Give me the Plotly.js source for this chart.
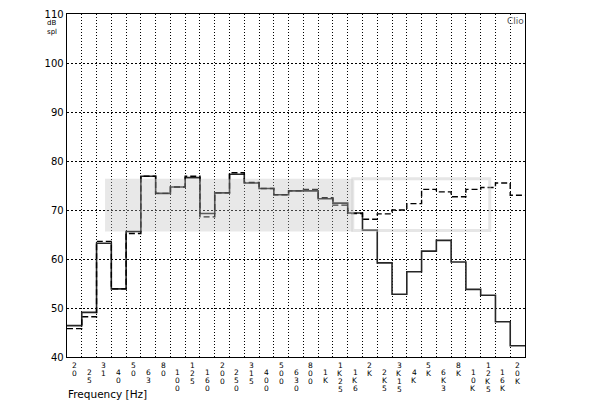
<!DOCTYPE html>
<html>
<head>
<meta charset="utf-8">
<script src="https://cdn.plot.ly/plotly-3.0.1.min.js"></script>
<style>html,body{margin:0;padding:0;background:#fff;}#chart{width:600px;height:403px;}</style>
</head>
<body>
<div id="chart"></div>
<script>
// 1/3-octave band labels (as printed under the axis)
const bandLabels = ["20","25","31","40","50","63","80","100","125","160","200","250","315","400","500","630","800","1K","1K25","1K6","2K","2K5","3K15","4K","5K","6K3","8K","10K","12K5","16K","20K"];
// Solid trace (dB spl)
const solidDb = [46.4, 49.1, 63.2, 53.9, 65.6, 76.9, 73.4, 74.7, 76.6, 69.3, 73.5, 77.3, 75.5, 74.4, 73.1, 73.9, 73.9, 72.3, 71.4, 69.4, 65.9, 59.2, 52.8, 57.4, 61.6, 63.8, 59.4, 53.8, 52.6, 47.2, 42.3];
// Dashed trace (dB spl)
const dashedDb = [45.8, 48.2, 63.6, 53.9, 65.2, 76.9, 73.4, 74.7, 76.9, 68.6, 73.5, 77.6, 75.6, 74.4, 73.1, 73.9, 74.2, 72.5, 71.0, 69.3, 68.1, 69.2, 70.0, 71.3, 74.2, 73.7, 72.7, 74.2, 74.6, 75.5, 73.0];
const yTicks = [40, 50, 60, 70, 80, 90, 100, 110];

const n = bandLabels.length;
// step edges: each band occupies [i-0.5, i+0.5]
const edges = bandLabels.map((_, i) => i - 0.5).concat([n - 0.5]);
const stepY = arr => arr.concat([arr[arr.length - 1]]);
const boundaries = bandLabels.slice(1).map((_, i) => i + 0.5);

const traces = [
  {x: edges, y: stepY(solidDb), mode: 'lines', line: {shape: 'hv', color: '#262626', width: 1.6}, hoverinfo: 'skip', showlegend: false},
  {x: edges, y: stepY(dashedDb), mode: 'lines', line: {shape: 'hv', color: '#000', width: 1.4, dash: '6px,3px'}, hoverinfo: 'skip', showlegend: false}
];

const FONT = 'DejaVu Sans, sans-serif';
const annotations = [];
bandLabels.forEach((lab, i) => {
  const chars = lab.split('');
  chars.forEach((ch, j) => {
    annotations.push({
      x: i, xref: 'x', y: 0, yref: 'paper', xanchor: 'center', yanchor: 'middle',
      yshift: -(8 + 8 * j + (i % 2) * 7.7), text: ch, showarrow: false, borderpad: 0,
      font: {family: FONT, size: 7.5, color: '#000'}
    });
  });
});
annotations.push({x: 0, xref: 'paper', y: 0, yref: 'paper', xanchor: 'left', yanchor: 'middle', xshift: -1, yshift: -37,
  text: 'Frequency [Hz]', showarrow: false, font: {family: FONT, size: 10.5, color: '#000'}});
annotations.push({x: 0, xref: 'paper', y: 1, yref: 'paper', xanchor: 'left', yanchor: 'middle', xshift: -21, yshift: -13.5,
  text: 'dB<br>spl', align: 'left', showarrow: false, borderpad: 0, font: {family: FONT, size: 7, color: '#000'}});
annotations.push({x: 1, xref: 'paper', y: 1, yref: 'paper', xanchor: 'right', yanchor: 'middle', xshift: 0, yshift: -7,
  text: 'Clio', showarrow: false, borderpad: 0, font: {family: FONT, size: 9, color: '#555'}});

const shapes = [
  {type: 'rect', xref: 'paper', yref: 'paper', x0: 0.083, x1: 0.624, y0: 0.366, y1: 0.52,
   fillcolor: 'rgba(190,190,190,0.35)', line: {width: 0}, layer: 'above'},
  {type: 'rect', xref: 'paper', yref: 'paper', x0: 0.624, x1: 0.923, y0: 0.369, y1: 0.52,
   fillcolor: 'rgba(0,0,0,0)', line: {width: 3, color: 'rgba(200,200,200,0.45)'}, layer: 'above'}
];

const layout = {
  width: 600, height: 403,
  margin: {l: 67, r: 75, t: 14, b: 46, pad: 0},
  paper_bgcolor: '#fff', plot_bgcolor: '#fff',
  font: {family: FONT, color: '#000'},
  xaxis: {
    range: [-0.5, n - 0.5], tickvals: boundaries, showticklabels: false, ticks: '',
    showgrid: true, gridcolor: '#000', gridwidth: 1, griddash: '1px,2px',
    zeroline: false, showline: true, mirror: true, linecolor: '#000', linewidth: 1.3, fixedrange: true
  },
  yaxis: {
    range: [40, 110], tickvals: yTicks, ticktext: yTicks.map(String), ticks: '',
    tickfont: {family: FONT, size: 10, color: '#000'},
    showgrid: true, gridcolor: '#000', gridwidth: 1, griddash: '2px,2px',
    zeroline: false, showline: true, mirror: true, linecolor: '#000', linewidth: 1.3, fixedrange: true
  },
  annotations: annotations,
  shapes: shapes,
  showlegend: false
};

Plotly.newPlot('chart', traces, layout, {displayModeBar: false, staticPlot: true});
</script>
</body>
</html>
